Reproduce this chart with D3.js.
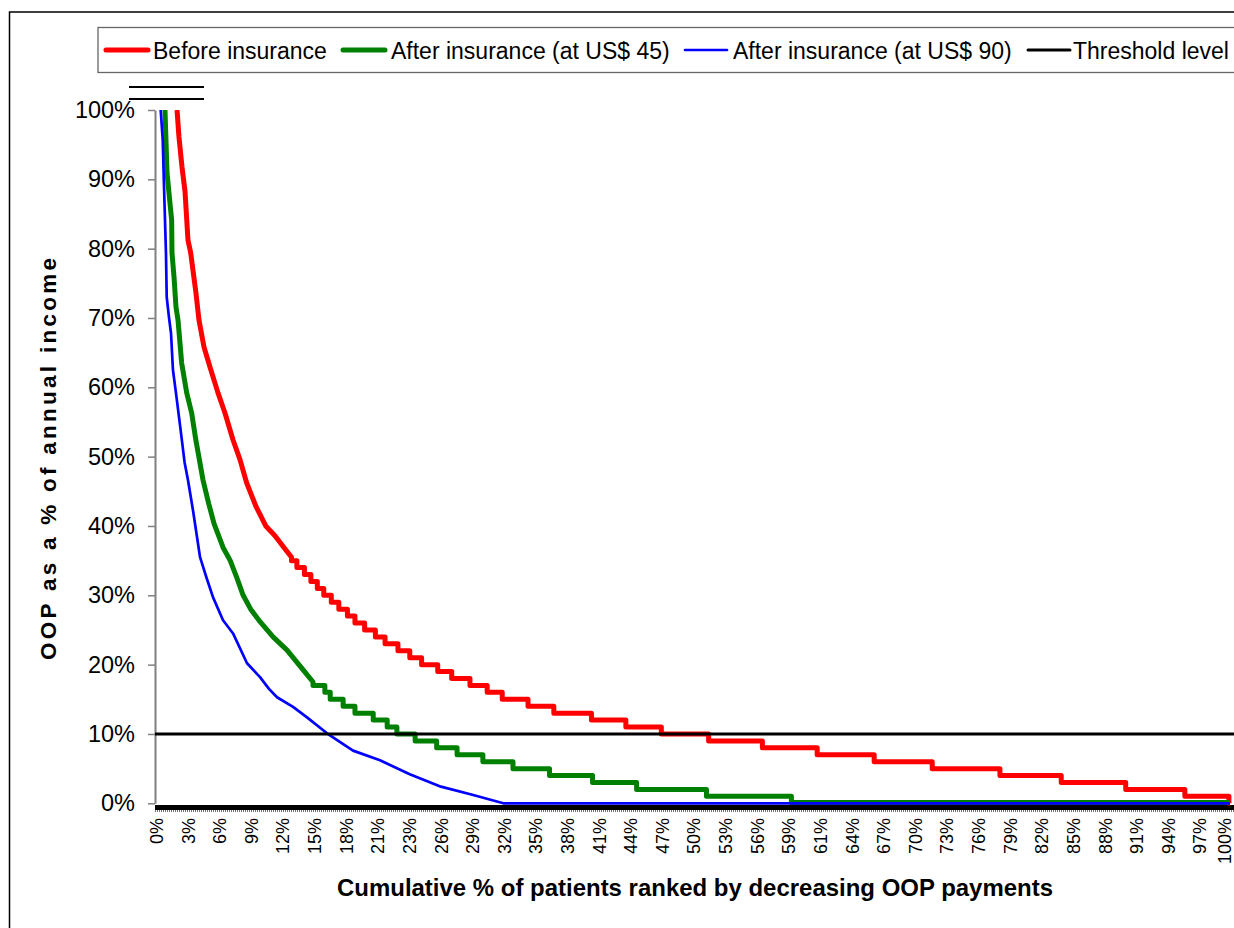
<!DOCTYPE html>
<html>
<head>
<meta charset="utf-8">
<script src="https://cdn.jsdelivr.net/npm/d3@7"></script>
<style>
  body { margin: 0; background: #fff; }
  svg { display: block; font-family: "Liberation Sans", Arial, sans-serif; }
</style>
</head>
<body>
<svg id="chart" width="1234" height="928"></svg>
<script>
// values
// x = cumulative % of patients, y = OOP as % of annual income
const redTop = [[2.05, 100], [2.23, 96.1], [2.51, 91.8], [2.79, 88.3], [3.07, 81.2], [3.32, 79.4],
  [3.81, 73.6], [4.09, 69.7], [4.56, 65.8], [5.12, 62.9], [5.86, 59.2], [6.51, 56.3], [7.26, 52.4],
  [7.9, 49.6], [8.53, 46.2], [9.4, 42.8], [10.3, 40.0], [11.16, 38.6], [11.94, 37.0], [12.7, 35.5]];
const redSteps = [[12.7, 35], [13.2, 34], [13.9, 33], [14.5, 32], [15.1, 31], [15.7, 30], [16.4, 29],
  [17.1, 28], [17.9, 27], [18.6, 26], [19.5, 25], [20.5, 24], [21.4, 23], [22.6, 22], [23.7, 21],
  [24.8, 20], [26.3, 19], [27.6, 18], [29.3, 17], [30.9, 16], [32.3, 15], [34.7, 14], [37.1, 13],
  [40.6, 12], [43.8, 11], [47.1, 10], [51.5, 9], [56.5, 8], [61.6, 7], [66.9, 6], [72.3, 5],
  [78.6, 4], [84.3, 3], [90.3, 2], [95.8, 1], [99.9, 0]];

const greenTop = [[0.93, 100], [1.12, 90.9], [1.55, 84.1], [1.58, 79.4], [1.77, 75.9], [1.95, 71.6],
  [2.14, 69.7], [2.48, 63.5], [2.95, 59.2], [3.41, 56.3], [3.8, 52.4], [4.47, 46.6], [5.0, 43.2],
  [5.5, 40.3], [6.33, 36.9], [7.0, 35.0], [7.6, 32.6], [8.2, 30.0], [8.9, 28.0], [9.77, 26.2],
  [10.98, 24.0], [12.28, 22.1], [13.8, 19.2], [14.7, 17.5]];
const greenSteps = [[14.7, 17], [15.8, 16], [16.3, 15], [17.5, 14], [18.6, 13], [20.3, 12], [21.6, 11],
  [22.5, 10], [24.2, 9], [26.2, 8], [28.1, 7], [30.5, 6], [33.3, 5], [36.7, 4], [40.7, 3], [44.8, 2],
  [51.3, 1], [59.2, 0.1]];

const blueCurve = [[0.53, 100], [0.72, 95.7], [0.84, 88.9], [1.02, 79.4], [1.09, 73.0], [1.3, 70.1],
  [1.49, 67.8], [1.67, 62.5], [1.95, 59.2], [2.33, 54.5], [2.75, 49.2], [3.07, 46.6], [3.53, 42.3],
  [4.19, 35.5], [4.8, 32.5], [5.4, 29.7], [6.33, 26.4], [7.26, 24.5], [8.56, 20.2], [9.77, 18.2],
  [10.6, 16.5], [11.35, 15.3], [12.84, 13.9], [14.14, 12.4], [16.0, 10.1], [18.42, 7.6], [20.93, 6.2],
  [23.7, 4.2], [26.6, 2.4], [29.6, 1.2], [32.4, 0], [100, 0]];

const threshold = 10;

const yTicks = [0, 10, 20, 30, 40, 50, 60, 70, 80, 90, 100];
const xTickLabels = ["0%", "3%", "6%", "9%", "12%", "15%", "18%", "21%", "23%", "26%", "29%", "32%",
  "35%", "38%", "41%", "44%", "47%", "50%", "53%", "56%", "59%", "61%", "64%", "67%", "70%", "73%",
  "76%", "79%", "82%", "85%", "88%", "91%", "94%", "97%", "100%"];

const seriesNames = ["Before insurance", "After insurance (at US$ 45)", "After insurance (at US$ 90)", "Threshold level"];
const seriesColors = ["#ff0000", "#008000", "#0000ff", "#000000"];

var svg = d3.select("#chart");

var x = d3.scaleLinear().domain([0, 100]).range([155, 1230]);
var y = d3.scaleLinear().domain([0, 100]).range([803.3, 110]);

// outer border of the chart area
svg.append("rect").attr("x", 9.5).attr("y", 12).attr("width", 1400).attr("height", 1000)
  .attr("fill", "none").attr("stroke", "#000").attr("stroke-width", 1.5);

// the two stray lines above the axis
[87, 99].forEach(function (yy) {
  svg.append("line").attr("x1", 129).attr("x2", 204).attr("y1", yy).attr("y2", yy)
    .attr("stroke", "#000").attr("stroke-width", 2);
});

// legend
var legend = svg.append("g");
legend.append("rect").attr("x", 98).attr("y", 27.5).attr("width", 1200).attr("height", 45)
  .attr("fill", "#fff").attr("stroke", "#666").attr("stroke-width", 1.3);
var legLineX = [106, 343, 685, 1028];
var legTextX = [153, 391, 733, 1073];
var legWidths = [5, 5, 2.7, 3];
seriesNames.forEach(function (name, i) {
  legend.append("line").attr("x1", legLineX[i]).attr("x2", legLineX[i] + 42)
    .attr("y1", 50).attr("y2", 50).attr("stroke", seriesColors[i])
    .attr("stroke-width", legWidths[i]).attr("stroke-linecap", "round");
  legend.append("text").attr("x", legTextX[i]).attr("y", 58.5).attr("font-size", 23)
    .attr("fill", "#000").text(name);
});

// y axis
var yAxis = svg.append("g").attr("transform", "translate(155,0)")
  .call(d3.axisLeft(y).tickValues(yTicks).tickFormat(function (d) { return d + "%"; })
    .tickSize(7).tickSizeOuter(0).tickPadding(13));
yAxis.select(".domain").attr("stroke", "#808080").attr("stroke-width", 2);
yAxis.selectAll(".tick line").attr("stroke", "#808080").attr("stroke-width", 1.5);
yAxis.selectAll(".tick text").attr("font-size", 23.5).attr("fill", "#000")
  .attr("font-family", "'Liberation Sans', Arial, sans-serif");

// x axis band at zero (dense tick marks)
svg.append("rect").attr("x", 155).attr("y", 805).attr("width", 1100).attr("height", 5).attr("fill", "#000");
svg.append("line").attr("x1", 155).attr("x2", 1234).attr("y1", 811).attr("y2", 811)
  .attr("stroke", "#444").attr("stroke-width", 1.5).attr("stroke-dasharray", "1,1");

// x tick labels
svg.append("g").selectAll("text").data(xTickLabels).join("text")
  .attr("transform", function (d, i) {
    var px = Math.min(x(i * 100 / (xTickLabels.length - 1)) + 1.5, 1225);
    return "translate(" + px + ",818) rotate(-90)";
  })
  .attr("text-anchor", "end").attr("dy", "0.36em").attr("font-size", 18).attr("fill", "#000")
  .text(function (d) { return d; });

// axis titles
svg.append("text").attr("x", 695).attr("y", 896).attr("text-anchor", "middle")
  .attr("font-size", 24).attr("font-weight", "bold")
  .attr("textLength", 716).attr("lengthAdjust", "spacingAndGlyphs")
  .text("Cumulative % of patients ranked by decreasing OOP payments");
svg.append("text").attr("transform", "translate(56,459) rotate(-90)").attr("text-anchor", "middle")
  .attr("font-size", 22.5).attr("font-weight", "bold")
  .attr("textLength", 402).attr("lengthAdjust", "spacing")
  .text("OOP as a % of annual income");

// series
svg.append("defs").append("clipPath").attr("id", "plot")
  .append("rect").attr("x", 150).attr("y", 110).attr("width", 1100).attr("height", 710);

function stepPoints(top, steps, endX) {
  var pts = top.slice();
  steps.forEach(function (s, i) {
    var next = i < steps.length - 1 ? steps[i + 1][0] : endX;
    pts.push([s[0], s[1]]);
    pts.push([next, s[1]]);
  });
  return pts;
}

var lineFunc = d3.line()
  .x(function (d) { return x(d[0]); })
  .y(function (d) { return y(d[1]); });

var plot = svg.append("g").attr("clip-path", "url(#plot)");

plot.append("path").attr("d", lineFunc(stepPoints(redTop, redSteps, 100)))
  .attr("fill", "none").attr("stroke", seriesColors[0]).attr("stroke-width", 5).attr("stroke-linejoin", "round");
plot.append("path").attr("d", lineFunc(stepPoints(greenTop, greenSteps, 100)))
  .attr("fill", "none").attr("stroke", seriesColors[1]).attr("stroke-width", 5).attr("stroke-linejoin", "round");

svg.append("line").attr("x1", 155).attr("x2", 1234).attr("y1", y(threshold)).attr("y2", y(threshold))
  .attr("stroke", seriesColors[3]).attr("stroke-width", 3);

plot.append("path").attr("d", lineFunc(blueCurve))
  .attr("fill", "none").attr("stroke", seriesColors[2]).attr("stroke-width", 2.7).attr("stroke-linejoin", "round");
</script>
</body>
</html>
